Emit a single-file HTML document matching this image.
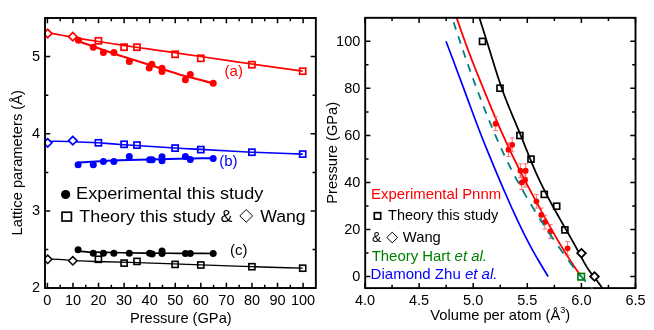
<!DOCTYPE html>
<html><head><meta charset="utf-8"><title>chart</title><style>html,body{margin:0;padding:0;background:#fff}body{width:654px;height:330px;overflow:hidden}</style></head><body>
<svg width="654" height="330" viewBox="0 0 654 330" style="display:block;will-change:transform">
<rect width="654" height="330" fill="#fff"/>
<clipPath id="c1"><rect x="44" y="17" width="273" height="272"/></clipPath><g clip-path="url(#c1)">
<path d="M47.6 32.7C49.4 33 49.62 32.98 53 33.6C56.38 34.22 63.23 35.55 67.9 36.4C72.57 37.25 75.92 37.85 81 38.7C86.08 39.55 91.07 40.35 98.4 41.5C105.73 42.65 116.4 44.32 125 45.6C133.6 46.88 141.65 48.02 150 49.2C158.35 50.38 166.67 51.48 175.1 52.7C183.53 53.92 187.8 54.62 200.6 56.5C213.4 58.38 234.88 61.55 251.9 64C268.92 66.45 285.77 68.8 302.7 71.2" fill="none" stroke="#ff0000" stroke-width="1.7"/>
<path d="M78.5 41.2C90 45.2 101.08 49.22 113 53.2C124.92 57.18 138.97 61.57 150 65.1C161.03 68.63 171.05 71.98 179.2 74.4C187.35 76.82 193.23 78.12 198.9 79.6C204.57 81.08 208.43 82.07 213.2 83.3" fill="none" stroke="#ff0000" stroke-width="2.1"/>
<path d="M47.6 141.9C49.33 141.7 49.38 141.37 52.8 141.3C56.22 141.23 63.82 141.38 68.1 141.5C72.38 141.62 73.43 141.8 78.5 142C83.57 142.2 91.58 142.28 98.5 142.7C105.42 143.12 107.23 143.62 120 144.5C132.77 145.38 161.63 147.18 175.1 148C188.57 148.82 188 148.7 200.8 149.4C213.6 150.1 234.92 151.42 251.9 152.2C268.88 152.98 285.77 153.47 302.7 154.1" fill="none" stroke="#0000ff" stroke-width="1.6"/>
<path d="M78.2 162.4C92.13 161.7 103.2 160.9 120 160.3C136.8 159.7 163.47 159.15 179 158.8C194.53 158.45 201.8 158.4 213.2 158.2" fill="none" stroke="#0000ff" stroke-width="2"/>
<path d="M47.5 259.2C49.27 259.2 49.38 259.05 52.8 259.2C56.22 259.35 63.78 259.83 68 260.1C72.22 260.37 73.6 260.57 78.1 260.8C82.6 261.03 83.85 261.17 95 261.5C106.15 261.83 127.37 262.25 145 262.8C162.63 263.35 182.98 264.15 200.8 264.8C218.62 265.45 234.92 266.13 251.9 266.7C268.88 267.27 285.77 267.7 302.7 268.2" fill="none" stroke="#000" stroke-width="1.35"/>
<path d="M78.1 250.7C80.4 251.03 82.18 251.45 85 251.7C87.82 251.95 85 251.97 95 252.2C105 252.43 131 252.92 145 253.1C159 253.28 167.63 253.23 179 253.3C190.37 253.37 201.8 253.43 213.2 253.5" fill="none" stroke="#000" stroke-width="1.7"/>
<path d="M43.5 33.5L47.7 29.3L51.9 33.5L47.7 37.7Z" fill="#fff" stroke="#ff0000" stroke-width="1.7" stroke-linejoin="miter"/>
<path d="M68.6 36.7L72.8 32.5L77 36.7L72.8 40.9Z" fill="#fff" stroke="#ff0000" stroke-width="1.7" stroke-linejoin="miter"/>
<rect x="95.35" y="37.75" width="6.1" height="6.1" fill="none" stroke="#ff0000" stroke-width="1.7"/>
<rect x="121.05" y="44.15" width="6.1" height="6.1" fill="none" stroke="#ff0000" stroke-width="1.7"/>
<rect x="133.95" y="44.15" width="6.1" height="6.1" fill="none" stroke="#ff0000" stroke-width="1.7"/>
<rect x="172.05" y="51.25" width="6.1" height="6.1" fill="none" stroke="#ff0000" stroke-width="1.7"/>
<rect x="197.75" y="55.25" width="6.1" height="6.1" fill="none" stroke="#ff0000" stroke-width="1.7"/>
<rect x="248.85" y="61.65" width="6.1" height="6.1" fill="none" stroke="#ff0000" stroke-width="1.7"/>
<rect x="299.65" y="68.15" width="6.1" height="6.1" fill="none" stroke="#ff0000" stroke-width="1.7"/>
<circle cx="78.5" cy="40.3" r="3.5" fill="#ff0000"/>
<circle cx="93.3" cy="47.2" r="3.5" fill="#ff0000"/>
<circle cx="103.4" cy="52.5" r="3.5" fill="#ff0000"/>
<circle cx="113.9" cy="52.5" r="3.5" fill="#ff0000"/>
<circle cx="129.3" cy="61.5" r="3.5" fill="#ff0000"/>
<circle cx="149.2" cy="68" r="3.5" fill="#ff0000"/>
<circle cx="151.8" cy="64.3" r="3.5" fill="#ff0000"/>
<circle cx="162" cy="68.2" r="3.5" fill="#ff0000"/>
<circle cx="162" cy="71.4" r="3.5" fill="#ff0000"/>
<circle cx="185.4" cy="79.7" r="3.5" fill="#ff0000"/>
<circle cx="190.3" cy="74.6" r="3.5" fill="#ff0000"/>
<circle cx="213.2" cy="83.2" r="3.5" fill="#ff0000"/>
<path d="M43.5 142.8L47.7 138.6L51.9 142.8L47.7 147Z" fill="#fff" stroke="#0000ff" stroke-width="1.7" stroke-linejoin="miter"/>
<path d="M68.6 140.6L72.8 136.4L77 140.6L72.8 144.8Z" fill="#fff" stroke="#0000ff" stroke-width="1.7" stroke-linejoin="miter"/>
<rect x="95.35" y="139.75" width="6.1" height="6.1" fill="none" stroke="#0000ff" stroke-width="1.7"/>
<rect x="121.05" y="141.25" width="6.1" height="6.1" fill="none" stroke="#0000ff" stroke-width="1.7"/>
<rect x="133.95" y="142.05" width="6.1" height="6.1" fill="none" stroke="#0000ff" stroke-width="1.7"/>
<rect x="172.05" y="145.05" width="6.1" height="6.1" fill="none" stroke="#0000ff" stroke-width="1.7"/>
<rect x="197.75" y="146.55" width="6.1" height="6.1" fill="none" stroke="#0000ff" stroke-width="1.7"/>
<rect x="248.85" y="149.15" width="6.1" height="6.1" fill="none" stroke="#0000ff" stroke-width="1.7"/>
<rect x="299.65" y="151.05" width="6.1" height="6.1" fill="none" stroke="#0000ff" stroke-width="1.7"/>
<circle cx="78.1" cy="164.8" r="3.5" fill="#0000ff"/>
<circle cx="93.3" cy="164.8" r="3.5" fill="#0000ff"/>
<circle cx="103.4" cy="161.4" r="3.5" fill="#0000ff"/>
<circle cx="113.9" cy="161.4" r="3.5" fill="#0000ff"/>
<circle cx="129.3" cy="156.5" r="3.5" fill="#0000ff"/>
<circle cx="149.6" cy="159.7" r="3.5" fill="#0000ff"/>
<circle cx="152.2" cy="159.7" r="3.5" fill="#0000ff"/>
<circle cx="162" cy="156.7" r="3.5" fill="#0000ff"/>
<circle cx="162" cy="160.7" r="3.5" fill="#0000ff"/>
<circle cx="185.4" cy="156.5" r="3.5" fill="#0000ff"/>
<circle cx="190.3" cy="159.5" r="3.5" fill="#0000ff"/>
<circle cx="213.2" cy="158.6" r="3.5" fill="#0000ff"/>
<path d="M43.5 259.3L47.7 255.1L51.9 259.3L47.7 263.5Z" fill="#fff" stroke="#000" stroke-width="1.5" stroke-linejoin="miter"/>
<path d="M68.6 260.8L72.8 256.6L77 260.8L72.8 265Z" fill="#fff" stroke="#000" stroke-width="1.5" stroke-linejoin="miter"/>
<rect x="95.35" y="256.25" width="6.1" height="6.1" fill="none" stroke="#000" stroke-width="1.6"/>
<rect x="121.05" y="260.05" width="6.1" height="6.1" fill="none" stroke="#000" stroke-width="1.6"/>
<rect x="133.95" y="258.35" width="6.1" height="6.1" fill="none" stroke="#000" stroke-width="1.6"/>
<rect x="172.05" y="261.35" width="6.1" height="6.1" fill="none" stroke="#000" stroke-width="1.6"/>
<rect x="197.75" y="261.95" width="6.1" height="6.1" fill="none" stroke="#000" stroke-width="1.6"/>
<rect x="248.85" y="263.65" width="6.1" height="6.1" fill="none" stroke="#000" stroke-width="1.6"/>
<rect x="299.65" y="265.15" width="6.1" height="6.1" fill="none" stroke="#000" stroke-width="1.6"/>
<circle cx="78.1" cy="249.8" r="3.5" fill="#000"/>
<circle cx="93.3" cy="253.3" r="3.5" fill="#000"/>
<circle cx="103.4" cy="253.3" r="3.5" fill="#000"/>
<circle cx="113.9" cy="253.3" r="3.5" fill="#000"/>
<circle cx="129.3" cy="253.3" r="3.5" fill="#000"/>
<circle cx="149.6" cy="253.3" r="3.5" fill="#000"/>
<circle cx="152.2" cy="253.9" r="3.5" fill="#000"/>
<circle cx="162" cy="251.1" r="3.5" fill="#000"/>
<circle cx="162" cy="253.5" r="3.5" fill="#000"/>
<circle cx="185.4" cy="253.5" r="3.5" fill="#000"/>
<circle cx="190.3" cy="253.5" r="3.5" fill="#000"/>
<circle cx="213.2" cy="253.5" r="3.5" fill="#000"/>
</g>
<rect x="45" y="18" width="270.85" height="270" fill="none" stroke="#000" stroke-width="1.9"/>
<path d="M47.4 288v-5.2M47.4 18v5.2M60.19 288v-3.3M60.19 18v3.3M72.97 288v-5.2M72.97 18v5.2M85.75 288v-3.3M85.75 18v3.3M98.54 288v-5.2M98.54 18v5.2M111.32 288v-3.3M111.32 18v3.3M124.11 288v-5.2M124.11 18v5.2M136.9 288v-3.3M136.9 18v3.3M149.68 288v-5.2M149.68 18v5.2M162.47 288v-3.3M162.47 18v3.3M175.25 288v-5.2M175.25 18v5.2M188.03 288v-3.3M188.03 18v3.3M200.82 288v-5.2M200.82 18v5.2M213.6 288v-3.3M213.6 18v3.3M226.39 288v-5.2M226.39 18v5.2M239.18 288v-3.3M239.18 18v3.3M251.96 288v-5.2M251.96 18v5.2M264.75 288v-3.3M264.75 18v3.3M277.53 288v-5.2M277.53 18v5.2M290.31 288v-3.3M290.31 18v3.3M303.1 288v-5.2M303.1 18v5.2M45 288.2h5.2M315.85 288.2h-5.2M45 249.6h3.3M315.85 249.6h-3.3M45 211h5.2M315.85 211h-5.2M45 172.4h3.3M315.85 172.4h-3.3M45 133.8h5.2M315.85 133.8h-5.2M45 95.2h3.3M315.85 95.2h-3.3M45 56.6h5.2M315.85 56.6h-5.2M45 18h3.3M315.85 18h-3.3" stroke="#000" stroke-width="1.5" fill="none"/>
<text x="47.4" y="304.6" font-size="14.5" text-anchor="middle" font-family="Liberation Sans, sans-serif">0</text>
<text x="72.97" y="304.6" font-size="14.5" text-anchor="middle" font-family="Liberation Sans, sans-serif">10</text>
<text x="98.54" y="304.6" font-size="14.5" text-anchor="middle" font-family="Liberation Sans, sans-serif">20</text>
<text x="124.11" y="304.6" font-size="14.5" text-anchor="middle" font-family="Liberation Sans, sans-serif">30</text>
<text x="149.68" y="304.6" font-size="14.5" text-anchor="middle" font-family="Liberation Sans, sans-serif">40</text>
<text x="175.25" y="304.6" font-size="14.5" text-anchor="middle" font-family="Liberation Sans, sans-serif">50</text>
<text x="200.82" y="304.6" font-size="14.5" text-anchor="middle" font-family="Liberation Sans, sans-serif">60</text>
<text x="226.39" y="304.6" font-size="14.5" text-anchor="middle" font-family="Liberation Sans, sans-serif">70</text>
<text x="251.96" y="304.6" font-size="14.5" text-anchor="middle" font-family="Liberation Sans, sans-serif">80</text>
<text x="277.53" y="304.6" font-size="14.5" text-anchor="middle" font-family="Liberation Sans, sans-serif">90</text>
<text x="303.1" y="304.6" font-size="14.5" text-anchor="middle" font-family="Liberation Sans, sans-serif">100</text>
<text x="40.1" y="292.3" font-size="14.5" text-anchor="end" font-family="Liberation Sans, sans-serif">2</text>
<text x="40.1" y="215.1" font-size="14.5" text-anchor="end" font-family="Liberation Sans, sans-serif">3</text>
<text x="40.1" y="137.9" font-size="14.5" text-anchor="end" font-family="Liberation Sans, sans-serif">4</text>
<text x="40.1" y="60.7" font-size="14.5" text-anchor="end" font-family="Liberation Sans, sans-serif">5</text>
<text x="129.9" y="323.4" font-size="14.5" textLength="101.8" lengthAdjust="spacingAndGlyphs" font-family="Liberation Sans, sans-serif">Pressure (GPa)</text>
<text transform="translate(22.2,235.4) rotate(-90)" font-size="14.5" textLength="145.3" lengthAdjust="spacingAndGlyphs" font-family="Liberation Sans, sans-serif">Lattice parameters (Å)</text>
<text x="224.6" y="76.2" font-size="15" fill="#ff0000" font-family="Liberation Sans, sans-serif">(a)</text>
<text x="219.2" y="166.2" font-size="15" fill="#0000ff" font-family="Liberation Sans, sans-serif">(b)</text>
<text x="229.9" y="255.2" font-size="15" font-family="Liberation Sans, sans-serif">(c)</text>
<circle cx="65.6" cy="194.5" r="4.6" fill="#000"/>
<text x="76.1" y="199.4" font-size="16.3" textLength="187.2" lengthAdjust="spacingAndGlyphs" font-family="Liberation Sans, sans-serif">Experimental this study</text>
<rect x="62" y="212.2" width="9.4" height="8.8" fill="none" stroke="#000" stroke-width="1.7"/>
<text x="79.3" y="221.7" font-size="16.3" textLength="153.1" lengthAdjust="spacingAndGlyphs" font-family="Liberation Sans, sans-serif">Theory this study &amp;</text>
<path d="M239.8 215.9L246.2 209.6L252.6 215.9L246.2 222.2Z" fill="none" stroke="#000" stroke-width="1"/>
<text x="260.2" y="221.7" font-size="16.3" textLength="45.4" lengthAdjust="spacingAndGlyphs" font-family="Liberation Sans, sans-serif">Wang</text>
<clipPath id="c2"><rect x="365.2" y="17.8" width="270.3" height="270.3"/></clipPath>
<g clip-path="url(#c2)">
<path d="M446 41.3L447.52 45.29L449.03 49.27L450.54 53.26L452.05 57.25L453.55 61.23L455.05 65.22L456.54 69.21L458.02 73.19L459.51 77.18L460.99 81.16L462.46 85.15L463.94 89.14L465.41 93.12L466.88 97.11L468.34 101.1L469.81 105.08L471.29 109.07L472.76 113.06L474.25 117.04L475.75 121.03L477.25 125.02L478.78 129L480.32 132.99L481.87 136.97L483.45 140.96L485.05 144.95L486.66 148.93L488.29 152.92L489.93 156.91L491.58 160.89L493.24 164.88L494.91 168.87L496.59 172.85L498.28 176.84L499.97 180.83L501.67 184.81L503.38 188.8L505.1 192.78L506.83 196.77L508.58 200.76L510.35 204.74L512.14 208.73L513.95 212.72L515.79 216.7L517.65 220.69L519.54 224.68L521.47 228.66L523.44 232.65L525.44 236.64L527.49 240.62L529.59 244.61L531.73 248.59L533.94 252.58L536.2 256.57L538.51 260.55L540.87 264.54L543.26 268.53L545.67 272.51L548.1 276.5" fill="none" stroke="#0000ff" stroke-width="1.7"/>
<path d="M456.14 16.5L457.68 20.91L459.22 25.31L460.76 29.72L462.32 34.13L463.89 38.53L465.48 42.94L467.09 47.35L468.73 51.75L470.39 56.16L472.09 60.57L473.81 64.97L475.56 69.38L477.33 73.79L479.11 78.19L480.91 82.6L482.72 87.01L484.53 91.42L486.34 95.82L488.15 100.23L489.96 104.64L491.79 109.04L493.62 113.45L495.47 117.86L497.34 122.26L499.24 126.67L501.16 131.08L503.12 135.48L505.11 139.89L507.14 144.3L509.2 148.7L511.29 153.11L513.42 157.52L515.58 161.92L517.76 166.33L519.98 170.74L522.22 175.14L524.49 179.55L526.79 183.96L529.11 188.36L531.45 192.77L533.81 197.18L536.18 201.58L538.57 205.99L540.98 210.4L543.39 214.81L545.82 219.21L548.26 223.62L550.73 228.03L553.22 232.43L555.76 236.84L558.34 241.25L560.97 245.65L563.66 250.06L566.41 254.47L569.24 258.87L572.13 263.28L575.06 267.69L578.02 272.09L581 276.5" fill="none" stroke="#ff0000" stroke-width="1.8"/>
<path d="M479 16.5L480.46 21.13L481.93 25.75L483.39 30.38L484.85 35.01L486.31 39.64L487.76 44.26L489.21 48.89L490.64 53.52L492.07 58.14L493.49 62.77L494.93 67.4L496.38 72.03L497.86 76.65L499.37 81.28L500.94 85.91L502.57 90.53L504.26 95.16L506.03 99.79L507.86 104.42L509.75 109.04L511.67 113.67L513.61 118.3L515.57 122.92L517.51 127.55L519.44 132.18L521.33 136.81L523.19 141.43L525.03 146.06L526.87 150.69L528.71 155.31L530.57 159.94L532.48 164.57L534.44 169.19L536.47 173.82L538.58 178.45L540.78 183.08L543.06 187.7L545.4 192.33L547.81 196.96L550.28 201.58L552.8 206.21L555.36 210.84L557.96 215.47L560.6 220.09L563.25 224.72L565.9 229.35L568.55 233.97L571.18 238.6L573.78 243.23L576.33 247.86L578.82 252.48L581.26 257.11L583.75 261.74L586.41 266.36L589.44 270.99L592.95 275.62L596.64 280.25L600.01 284.87L603.14 289.5" fill="none" stroke="#000" stroke-width="1.75"/>
</g>
<path d="M495.6 116.8V130.6M493.3 116.8h4.6M493.3 130.6h4.6M512.2 137.9V151.7M509.9 137.9h4.6M509.9 151.7h4.6M508.5 142.8V156.6M506.2 142.8h4.6M506.2 156.6h4.6M520.4 163.8V177.6M518.1 163.8h4.6M518.1 177.6h4.6M525.7 163.8V177.6M523.4 163.8h4.6M523.4 177.6h4.6M525.1 173.2V187M522.8 173.2h4.6M522.8 187h4.6M521.7 175.7V189.5M519.4 175.7h4.6M519.4 189.5h4.6M536.4 194.4V208.2M534.1 194.4h4.6M534.1 208.2h4.6M541.3 208V221.8M539 208h4.6M539 221.8h4.6M544.8 215.2V229M542.5 215.2h4.6M542.5 229h4.6M550.3 224.6V238.4M548 224.6h4.6M548 238.4h4.6M567.6 241.4V255.2M565.3 241.4h4.6M565.3 255.2h4.6" stroke="#ff4646" stroke-width="0.75" fill="none"/>
<circle cx="495.6" cy="123.7" r="2.9" fill="#ff0000"/>
<circle cx="512.2" cy="144.8" r="2.9" fill="#ff0000"/>
<circle cx="508.5" cy="149.7" r="2.9" fill="#ff0000"/>
<circle cx="520.4" cy="170.7" r="2.9" fill="#ff0000"/>
<circle cx="525.7" cy="170.7" r="2.9" fill="#ff0000"/>
<circle cx="525.1" cy="180.1" r="2.9" fill="#ff0000"/>
<circle cx="521.7" cy="182.6" r="2.9" fill="#ff0000"/>
<circle cx="536.4" cy="201.3" r="2.9" fill="#ff0000"/>
<circle cx="541.3" cy="214.9" r="2.9" fill="#ff0000"/>
<circle cx="544.8" cy="222.1" r="2.9" fill="#ff0000"/>
<circle cx="550.3" cy="231.5" r="2.9" fill="#ff0000"/>
<circle cx="567.6" cy="248.3" r="2.9" fill="#ff0000"/>
<g clip-path="url(#c2)">
<path d="M453.6 22.3L454.41 24.73L455.21 27.17L456.02 29.6M458.25 36.3L459.07 38.73L459.88 41.17L460.7 43.6M462.98 50.3L463.82 52.73L464.66 55.17L465.5 57.6M467.86 64.3L468.72 66.73L469.6 69.17L470.47 71.6M472.91 78.3L473.8 80.73L474.7 83.17L475.61 85.6M478.13 92.3L479.05 94.73L479.98 97.17L480.91 99.6M483.51 106.3L484.46 108.73L485.42 111.17L486.39 113.6M489.09 120.3L490.09 122.73L491.1 125.17L492.11 127.6M494.95 134.3L496 136.73L497.06 139.17L498.13 141.6M501.14 148.3L502.25 150.73L503.38 153.17L504.53 155.6M507.75 162.3L508.95 164.73L510.17 167.17L511.4 169.6M514.89 176.3L516.19 178.73L517.51 181.17L518.84 183.6M522.61 190.3L524 192.73L525.42 195.17L526.85 197.6M530.86 204.3L532.35 206.73L533.85 209.17L535.36 211.6M539.6 218.3L541.16 220.73L542.74 223.17L544.32 225.6M548.76 232.3L550.4 234.73L552.04 237.17L553.7 239.6M558.34 246.3L560.05 248.73L561.77 251.17L563.5 253.6M568.34 260.3L570.14 262.73L571.98 265.17L573.86 267.6M579.29 274.3L581.38 276.73L583.53 279.17L585.74 281.6M591.99 288.3L594.27 290.73L596.54 293.17L598.77 295.6" fill="none" stroke="#008080" stroke-width="1.8"/>
</g>
<rect x="479.5" y="38.4" width="6.0" height="6.0" fill="none" stroke="#000" stroke-width="1.65"/>
<rect x="497" y="85.2" width="6.0" height="6.0" fill="none" stroke="#000" stroke-width="1.65"/>
<rect x="516.9" y="132.5" width="6.0" height="6.0" fill="none" stroke="#000" stroke-width="1.65"/>
<rect x="528" y="156.1" width="6.0" height="6.0" fill="none" stroke="#000" stroke-width="1.65"/>
<rect x="541.3" y="191.4" width="6.0" height="6.0" fill="none" stroke="#000" stroke-width="1.65"/>
<rect x="553.7" y="203.2" width="6.0" height="6.0" fill="none" stroke="#000" stroke-width="1.65"/>
<rect x="561.9" y="226.9" width="6.0" height="6.0" fill="none" stroke="#000" stroke-width="1.65"/>
<path d="M577.2 253.2L581.5 248.9L585.8 253.2L581.5 257.5Z" fill="#fff" stroke="#000" stroke-width="1.8" stroke-linejoin="miter"/>
<path d="M590.2 276.5L594.5 272.2L598.8 276.5L594.5 280.8Z" fill="#fff" stroke="#000" stroke-width="1.8" stroke-linejoin="miter"/>
<rect x="577.95" y="273.45" width="6.5" height="6.5" fill="none" stroke="#008000" stroke-width="1.7"/>
<rect x="365.2" y="17.8" width="270.3" height="270.3" fill="none" stroke="#000" stroke-width="1.9"/>
<path d="M591.2 287.2L592.4 289" stroke="#008080" stroke-width="1.6" fill="none"/>
<path d="M365 288.1v-5.2M365 17.8v5.2M392.05 288.1v-3.3M392.05 17.8v3.3M419.1 288.1v-5.2M419.1 17.8v5.2M446.15 288.1v-3.3M446.15 17.8v3.3M473.2 288.1v-5.2M473.2 17.8v5.2M500.25 288.1v-3.3M500.25 17.8v3.3M527.3 288.1v-5.2M527.3 17.8v5.2M554.35 288.1v-3.3M554.35 17.8v3.3M581.4 288.1v-5.2M581.4 17.8v5.2M608.45 288.1v-3.3M608.45 17.8v3.3M635.5 288.1v-5.2M635.5 17.8v5.2M365.2 276.6h5.2M635.5 276.6h-5.2M365.2 253.07h3.3M635.5 253.07h-3.3M365.2 229.54h5.2M635.5 229.54h-5.2M365.2 206.01h3.3M635.5 206.01h-3.3M365.2 182.48h5.2M635.5 182.48h-5.2M365.2 158.95h3.3M635.5 158.95h-3.3M365.2 135.42h5.2M635.5 135.42h-5.2M365.2 111.89h3.3M635.5 111.89h-3.3M365.2 88.36h5.2M635.5 88.36h-5.2M365.2 64.83h3.3M635.5 64.83h-3.3M365.2 41.3h5.2M635.5 41.3h-5.2M365.2 17.77h3.3M635.5 17.77h-3.3" stroke="#000" stroke-width="1.5" fill="none"/>
<text x="365" y="304.6" font-size="14.5" text-anchor="middle" font-family="Liberation Sans, sans-serif">4.0</text>
<text x="419.1" y="304.6" font-size="14.5" text-anchor="middle" font-family="Liberation Sans, sans-serif">4.5</text>
<text x="473.2" y="304.6" font-size="14.5" text-anchor="middle" font-family="Liberation Sans, sans-serif">5.0</text>
<text x="527.3" y="304.6" font-size="14.5" text-anchor="middle" font-family="Liberation Sans, sans-serif">5.5</text>
<text x="581.4" y="304.6" font-size="14.5" text-anchor="middle" font-family="Liberation Sans, sans-serif">6.0</text>
<text x="635.5" y="304.6" font-size="14.5" text-anchor="middle" font-family="Liberation Sans, sans-serif">6.5</text>
<text x="360.3" y="281.2" font-size="14.5" text-anchor="end" font-family="Liberation Sans, sans-serif">0</text>
<text x="360.3" y="234.14" font-size="14.5" text-anchor="end" font-family="Liberation Sans, sans-serif">20</text>
<text x="360.3" y="187.08" font-size="14.5" text-anchor="end" font-family="Liberation Sans, sans-serif">40</text>
<text x="360.3" y="140.02" font-size="14.5" text-anchor="end" font-family="Liberation Sans, sans-serif">60</text>
<text x="360.3" y="92.96" font-size="14.5" text-anchor="end" font-family="Liberation Sans, sans-serif">80</text>
<text x="360.3" y="45.9" font-size="14.5" text-anchor="end" font-family="Liberation Sans, sans-serif">100</text>
<text x="430.3" y="320" font-size="14.5" textLength="140" lengthAdjust="spacingAndGlyphs" font-family="Liberation Sans, sans-serif">Volume per atom (Å<tspan dy="-7" font-size="9">3</tspan><tspan dy="7">)</tspan></text>
<text transform="translate(337,203.7) rotate(-90)" font-size="14.5" textLength="101.8" lengthAdjust="spacingAndGlyphs" font-family="Liberation Sans, sans-serif">Pressure (GPa)</text>
<text x="371.1" y="199.1" font-size="13.9" textLength="130" lengthAdjust="spacingAndGlyphs" fill="#ff0000" font-family="Liberation Sans, sans-serif">Experimental Pnnm</text>
<rect x="374.3" y="212.7" width="6.4" height="6.4" fill="none" stroke="#000" stroke-width="1.7"/>
<text x="388.1" y="220.4" font-size="13.9" textLength="110.2" lengthAdjust="spacingAndGlyphs" font-family="Liberation Sans, sans-serif">Theory this study</text>
<text x="372" y="242.1" font-size="13.9" font-family="Liberation Sans, sans-serif">&amp;</text>
<path d="M386.8 237.5L392.2 232.2L397.6 237.5L392.2 242.8Z" fill="none" stroke="#000" stroke-width="1"/>
<text x="402.8" y="242.1" font-size="13.9" textLength="38" lengthAdjust="spacingAndGlyphs" font-family="Liberation Sans, sans-serif">Wang</text>
<text x="371.7" y="261" font-size="13.9" textLength="115.3" lengthAdjust="spacingAndGlyphs" fill="#008000" font-family="Liberation Sans, sans-serif">Theory Hart <tspan font-style="italic">et al.</tspan></text>
<text x="370.6" y="278.8" font-size="13.9" textLength="126.9" lengthAdjust="spacingAndGlyphs" fill="#0000ff" font-family="Liberation Sans, sans-serif">Diamond Zhu <tspan font-style="italic">et al.</tspan></text>
</svg>
</body></html>
